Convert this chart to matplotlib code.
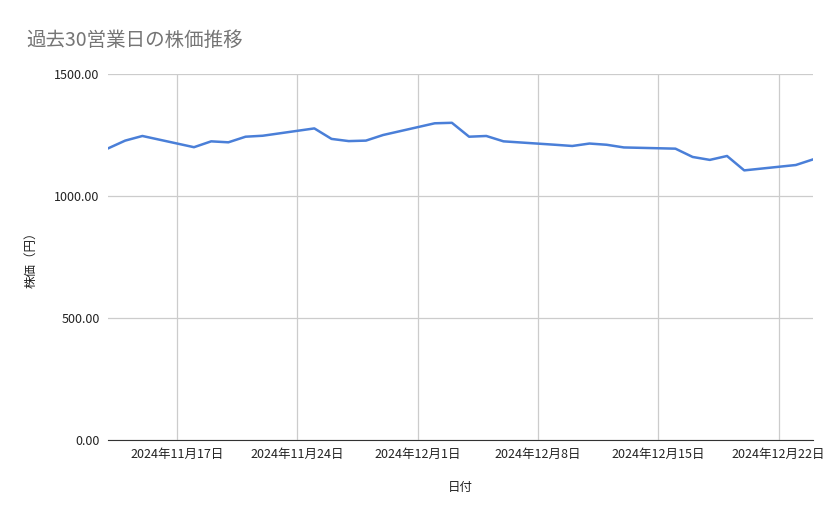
import matplotlib
matplotlib.use("Agg")
import matplotlib.pyplot as plt
import matplotlib.dates as mdates
import numpy as np
import datetime as dt

plt.rcParams['font.family'] = ['Noto Sans CJK JP', 'DejaVu Sans']

dates = ["2024-11-13","2024-11-14","2024-11-15","2024-11-18","2024-11-19","2024-11-20","2024-11-21","2024-11-22",
         "2024-11-25","2024-11-26","2024-11-27","2024-11-28","2024-11-29","2024-12-02","2024-12-03","2024-12-04",
         "2024-12-05","2024-12-06","2024-12-09","2024-12-10","2024-12-11","2024-12-12","2024-12-13","2024-12-16",
         "2024-12-17","2024-12-18","2024-12-19","2024-12-20","2024-12-23","2024-12-24"]
prices = [1195,1227,1246,1200,1224,1220,1243,1247,1277,1234,1225,1227,1250,1298,1300,1243,
          1246,1224,1210,1205,1215,1210,1199,1194,1160,1148,1164,1105,1127,1150]
tick_dates = ["2024-11-17","2024-11-24","2024-12-01","2024-12-08","2024-12-15","2024-12-22"]
yticks = [0, 500, 1000, 1500]

x = [dt.datetime.strptime(d, "%Y-%m-%d") for d in dates]
tx = [dt.datetime.strptime(d, "%Y-%m-%d") for d in tick_dates]

fig = plt.figure(figsize=(8.39, 5.19), dpi=100)
ax = fig.add_axes([108/839, 1-440/519, (813-108)/839, (440-74)/519])
ax.plot(x, prices, color="#4a7fd8", lw=1.8)
ax.set_xlim(x[0], x[-1])
ax.set_ylim(0, 1500)
ax.set_yticks(yticks)
ax.set_yticklabels([f"{v:.2f}" for v in yticks])
ax.set_xticks(tx)
ax.set_xticklabels([f"{d.year}年{d.month}月{d.day}日" for d in tx])
ax.grid(True, color="#cccccc", lw=0.9)
ax.set_axisbelow(True)
for s in ["top", "right", "left"]:
    ax.spines[s].set_visible(False)
ax.spines["bottom"].set_color("#333333")
ax.tick_params(length=0, labelsize=9, colors="#222222", pad=6)
ax.set_xlabel("日付", fontsize=9, labelpad=14, color="#222222")
ax.set_ylabel("株価（円）", fontsize=9, labelpad=12, color="#222222")
fig.text(26/839, 1-40/519, "過去30営業日の株価推移", fontsize=14, color="#757575", va="center")
fig.savefig("out.png", dpi=100)
